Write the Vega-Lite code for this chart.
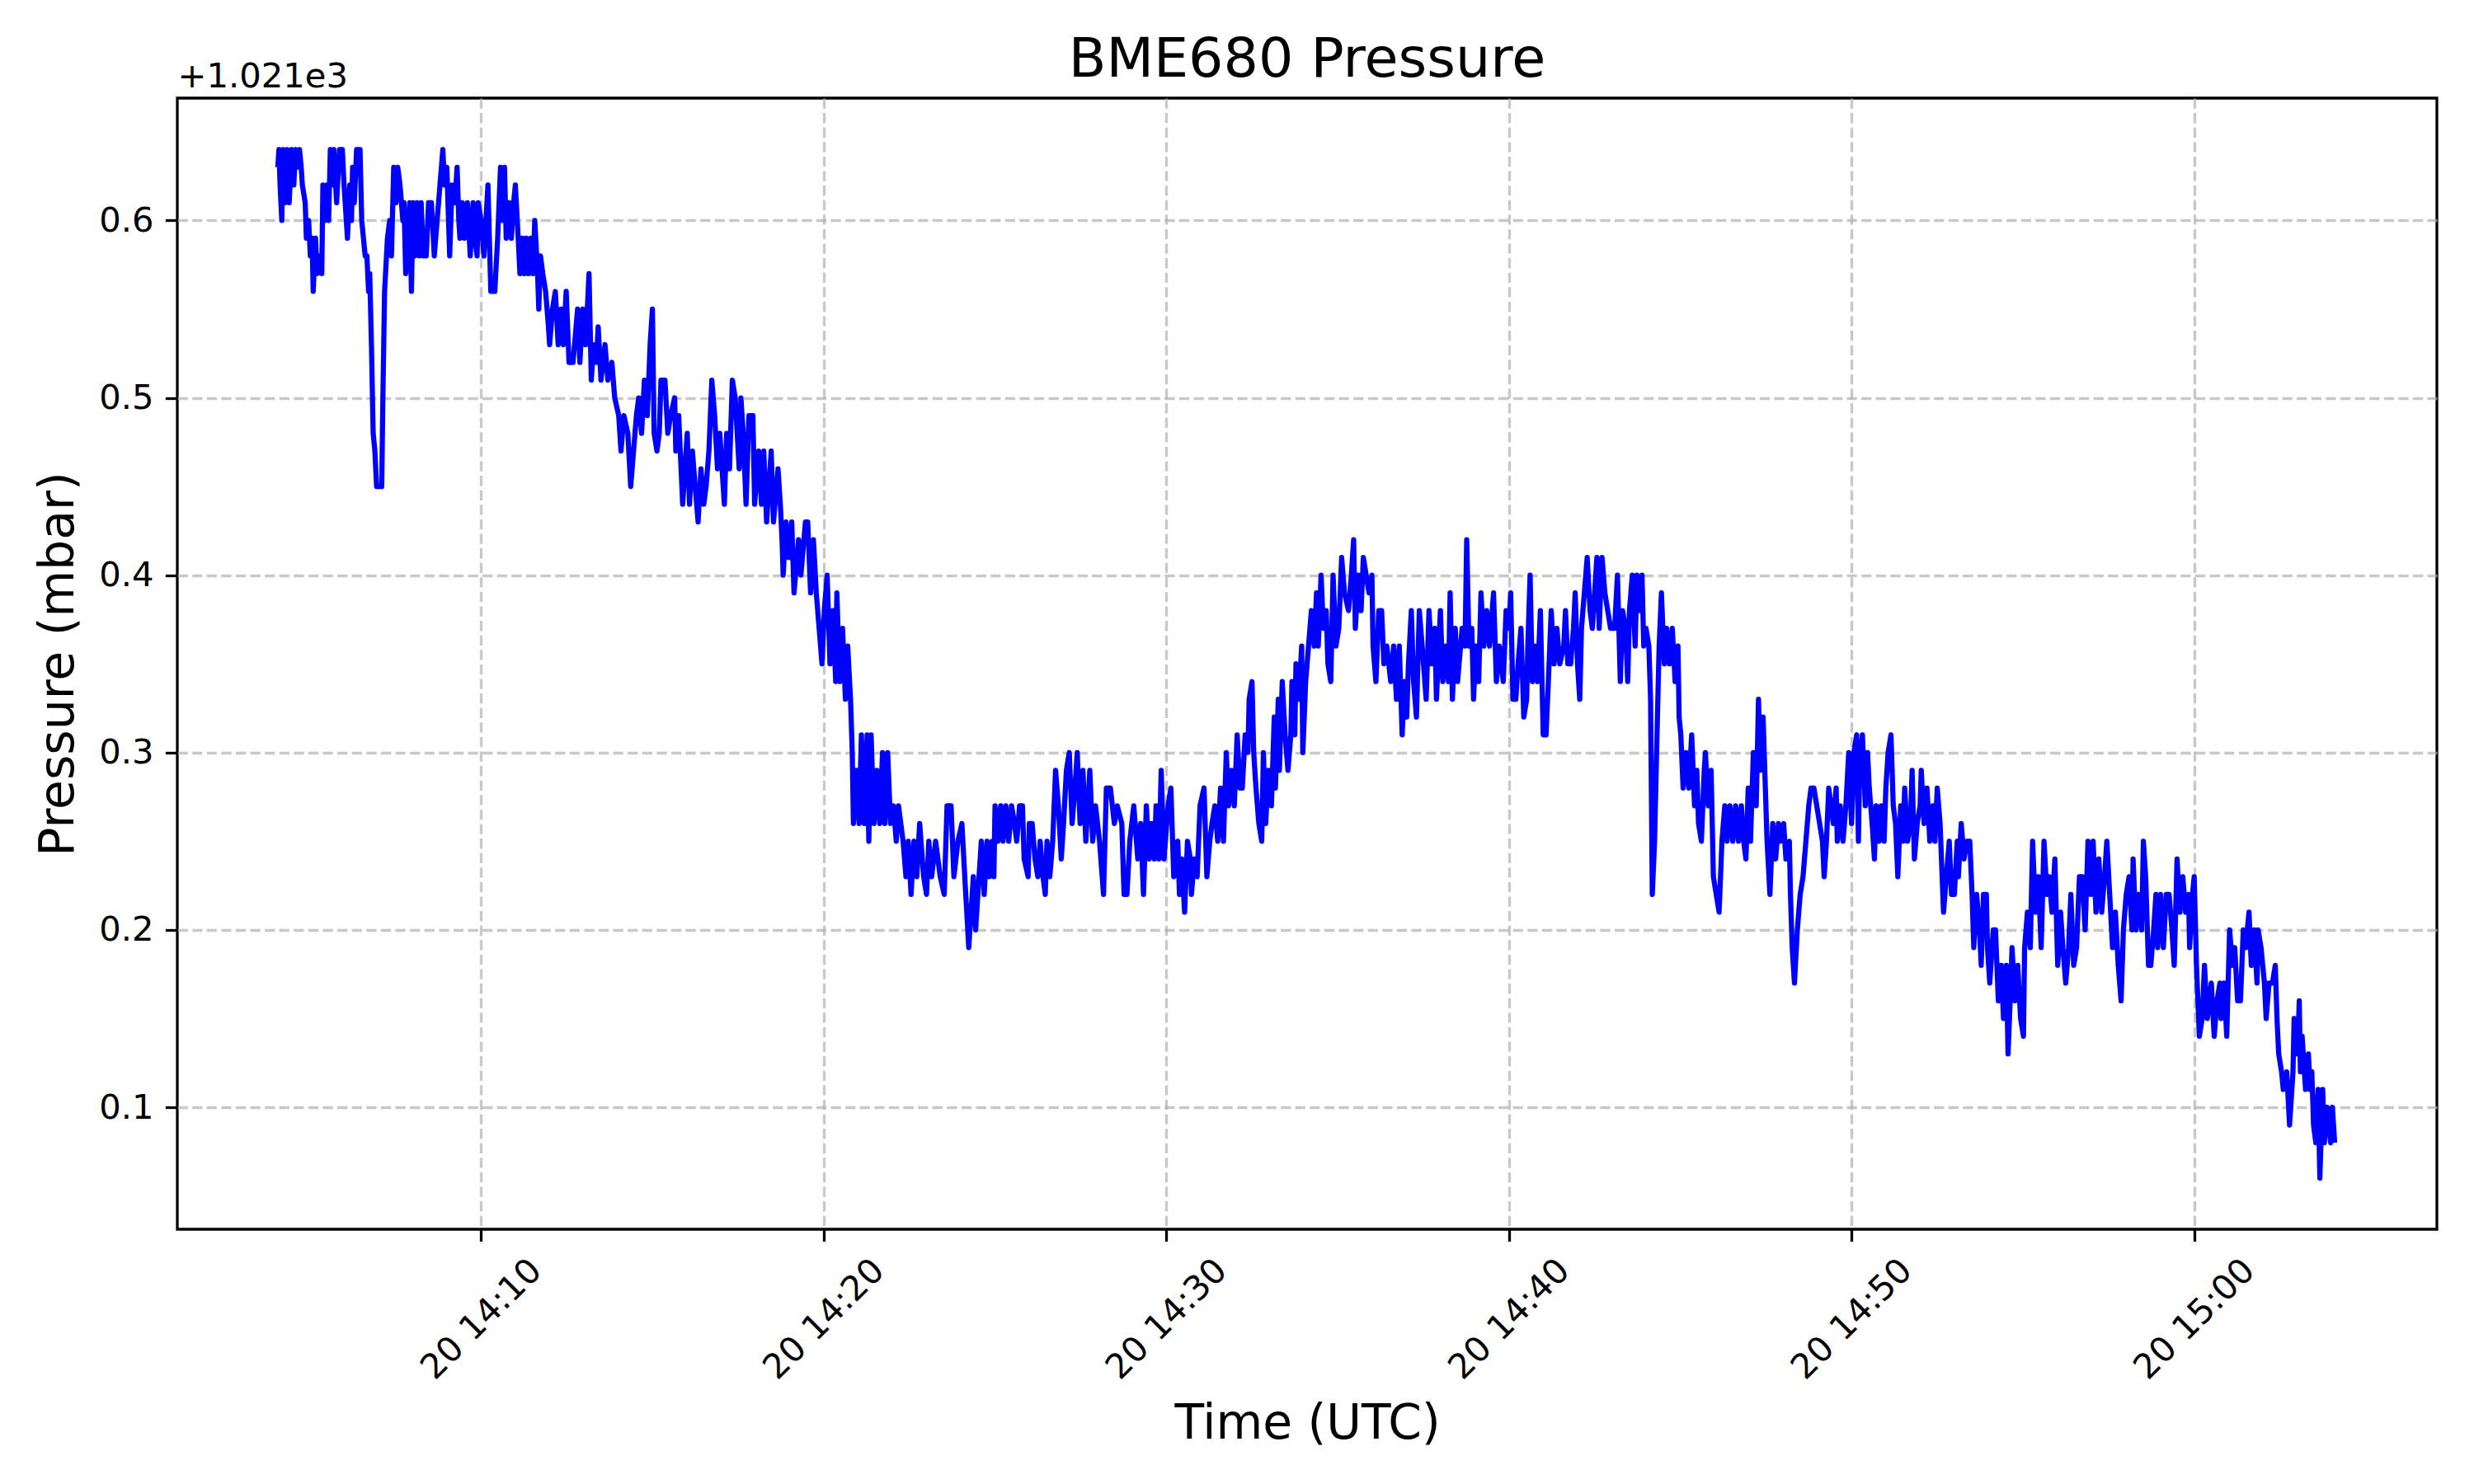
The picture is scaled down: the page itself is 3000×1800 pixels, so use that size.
{
  "$schema": "https://vega.github.io/schema/vega-lite/v6.json",
  "autosize": {"type": "none"},
  "width": 2740,
  "height": 1372,
  "padding": {"left": 215, "top": 119, "right": 45, "bottom": 309},
  "background": "white",
  "title": {
    "text": "BME680 Pressure",
    "font": "DejaVu Sans",
    "fontSize": 66.7,
    "fontWeight": "normal",
    "color": "#000000",
    "anchor": "middle",
    "frame": "group",
    "baseline": "alphabetic",
    "offset": -88
  },
  "data": {
    "format": {"parse": {"t": "utc:'%d %H:%M:%S'"}},
    "values": [
      {"t":"20 14:04:04","p":1021.63},{"t":"20 14:04:06","p":1021.64},{"t":"20 14:04:08","p":1021.62},{"t":"20 14:04:11","p":1021.60},
      {"t":"20 14:04:13","p":1021.64},{"t":"20 14:04:17","p":1021.61},{"t":"20 14:04:20","p":1021.64},{"t":"20 14:04:24","p":1021.61},
      {"t":"20 14:04:28","p":1021.64},{"t":"20 14:04:32","p":1021.62},{"t":"20 14:04:35","p":1021.64},{"t":"20 14:04:38","p":1021.63},
      {"t":"20 14:04:42","p":1021.64},{"t":"20 14:04:45","p":1021.63},{"t":"20 14:04:47","p":1021.62},{"t":"20 14:04:52","p":1021.61},
      {"t":"20 14:04:54","p":1021.59},{"t":"20 14:04:58","p":1021.60},{"t":"20 14:05:01","p":1021.58},{"t":"20 14:05:04","p":1021.59},
      {"t":"20 14:05:06","p":1021.56},{"t":"20 14:05:10","p":1021.59},{"t":"20 14:05:13","p":1021.57},{"t":"20 14:05:17","p":1021.58},
      {"t":"20 14:05:21","p":1021.57},{"t":"20 14:05:23","p":1021.62},{"t":"20 14:05:26","p":1021.60},{"t":"20 14:05:30","p":1021.62},
      {"t":"20 14:05:33","p":1021.60},{"t":"20 14:05:36","p":1021.64},{"t":"20 14:05:40","p":1021.62},{"t":"20 14:05:42","p":1021.64},
      {"t":"20 14:05:47","p":1021.61},{"t":"20 14:05:52","p":1021.64},{"t":"20 14:05:57","p":1021.64},{"t":"20 14:06:00","p":1021.62},
      {"t":"20 14:06:04","p":1021.60},{"t":"20 14:06:06","p":1021.59},{"t":"20 14:06:10","p":1021.62},{"t":"20 14:06:13","p":1021.60},
      {"t":"20 14:06:15","p":1021.63},{"t":"20 14:06:18","p":1021.61},{"t":"20 14:06:22","p":1021.64},{"t":"20 14:06:28","p":1021.64},
      {"t":"20 14:06:31","p":1021.60},{"t":"20 14:06:34","p":1021.59},{"t":"20 14:06:37","p":1021.58},{"t":"20 14:06:40","p":1021.58},
      {"t":"20 14:06:43","p":1021.56},{"t":"20 14:06:45","p":1021.57},{"t":"20 14:06:48","p":1021.53},{"t":"20 14:06:51","p":1021.48},
      {"t":"20 14:06:54","p":1021.47},{"t":"20 14:06:57","p":1021.45},{"t":"20 14:07:06","p":1021.45},{"t":"20 14:07:08","p":1021.50},
      {"t":"20 14:07:11","p":1021.56},{"t":"20 14:07:16","p":1021.59},{"t":"20 14:07:20","p":1021.60},{"t":"20 14:07:23","p":1021.58},
      {"t":"20 14:07:27","p":1021.63},{"t":"20 14:07:31","p":1021.61},{"t":"20 14:07:34","p":1021.63},{"t":"20 14:07:38","p":1021.62},
      {"t":"20 14:07:43","p":1021.60},{"t":"20 14:07:45","p":1021.61},{"t":"20 14:07:48","p":1021.57},{"t":"20 14:07:51","p":1021.59},
      {"t":"20 14:07:55","p":1021.61},{"t":"20 14:07:58","p":1021.56},{"t":"20 14:08:01","p":1021.61},{"t":"20 14:08:04","p":1021.58},
      {"t":"20 14:08:08","p":1021.61},{"t":"20 14:08:12","p":1021.58},{"t":"20 14:08:15","p":1021.61},{"t":"20 14:08:19","p":1021.58},
      {"t":"20 14:08:24","p":1021.58},{"t":"20 14:08:28","p":1021.61},{"t":"20 14:08:33","p":1021.61},{"t":"20 14:08:38","p":1021.58},
      {"t":"20 14:08:43","p":1021.60},{"t":"20 14:08:48","p":1021.62},{"t":"20 14:08:53","p":1021.64},{"t":"20 14:08:56","p":1021.62},
      {"t":"20 14:09:00","p":1021.63},{"t":"20 14:09:05","p":1021.58},{"t":"20 14:09:09","p":1021.62},{"t":"20 14:09:14","p":1021.61},
      {"t":"20 14:09:18","p":1021.63},{"t":"20 14:09:21","p":1021.60},{"t":"20 14:09:23","p":1021.59},{"t":"20 14:09:27","p":1021.61},
      {"t":"20 14:09:31","p":1021.59},{"t":"20 14:09:36","p":1021.61},{"t":"20 14:09:41","p":1021.58},{"t":"20 14:09:46","p":1021.61},
      {"t":"20 14:09:49","p":1021.59},{"t":"20 14:09:53","p":1021.58},{"t":"20 14:09:55","p":1021.61},{"t":"20 14:10:00","p":1021.60},
      {"t":"20 14:10:05","p":1021.58},{"t":"20 14:10:12","p":1021.62},{"t":"20 14:10:17","p":1021.56},{"t":"20 14:10:24","p":1021.56},
      {"t":"20 14:10:29","p":1021.59},{"t":"20 14:10:34","p":1021.63},{"t":"20 14:10:38","p":1021.60},{"t":"20 14:10:41","p":1021.63},
      {"t":"20 14:10:44","p":1021.59},{"t":"20 14:10:49","p":1021.61},{"t":"20 14:10:53","p":1021.59},{"t":"20 14:10:57","p":1021.61},
      {"t":"20 14:11:00","p":1021.62},{"t":"20 14:11:05","p":1021.59},{"t":"20 14:11:08","p":1021.57},{"t":"20 14:11:12","p":1021.59},
      {"t":"20 14:11:16","p":1021.57},{"t":"20 14:11:19","p":1021.59},{"t":"20 14:11:23","p":1021.57},{"t":"20 14:11:27","p":1021.59},
      {"t":"20 14:11:31","p":1021.57},{"t":"20 14:11:34","p":1021.60},{"t":"20 14:11:39","p":1021.57},{"t":"20 14:11:41","p":1021.55},
      {"t":"20 14:11:44","p":1021.58},{"t":"20 14:11:48","p":1021.57},{"t":"20 14:11:53","p":1021.56},{"t":"20 14:11:58","p":1021.54},
      {"t":"20 14:12:00","p":1021.53},{"t":"20 14:12:05","p":1021.55},{"t":"20 14:12:10","p":1021.56},{"t":"20 14:12:15","p":1021.53},
      {"t":"20 14:12:20","p":1021.55},{"t":"20 14:12:24","p":1021.53},{"t":"20 14:12:29","p":1021.56},{"t":"20 14:12:34","p":1021.52},
      {"t":"20 14:12:41","p":1021.52},{"t":"20 14:12:49","p":1021.55},{"t":"20 14:12:53","p":1021.52},{"t":"20 14:12:58","p":1021.55},
      {"t":"20 14:13:03","p":1021.53},{"t":"20 14:13:09","p":1021.57},{"t":"20 14:13:13","p":1021.51},{"t":"20 14:13:17","p":1021.53},
      {"t":"20 14:13:22","p":1021.52},{"t":"20 14:13:25","p":1021.54},{"t":"20 14:13:30","p":1021.51},{"t":"20 14:13:37","p":1021.53},
      {"t":"20 14:13:42","p":1021.51},{"t":"20 14:13:49","p":1021.52},{"t":"20 14:13:54","p":1021.50},{"t":"20 14:14:01","p":1021.49},
      {"t":"20 14:14:05","p":1021.47},{"t":"20 14:14:10","p":1021.49},{"t":"20 14:14:17","p":1021.48},{"t":"20 14:14:22","p":1021.45},
      {"t":"20 14:14:27","p":1021.47},{"t":"20 14:14:32","p":1021.49},{"t":"20 14:14:36","p":1021.50},{"t":"20 14:14:41","p":1021.48},
      {"t":"20 14:14:46","p":1021.51},{"t":"20 14:14:51","p":1021.49},{"t":"20 14:14:56","p":1021.53},{"t":"20 14:15:00","p":1021.55},
      {"t":"20 14:15:03","p":1021.48},{"t":"20 14:15:08","p":1021.47},{"t":"20 14:15:12","p":1021.48},{"t":"20 14:15:15","p":1021.51},
      {"t":"20 14:15:22","p":1021.51},{"t":"20 14:15:27","p":1021.48},{"t":"20 14:15:32","p":1021.49},{"t":"20 14:15:39","p":1021.50},
      {"t":"20 14:15:41","p":1021.47},{"t":"20 14:15:46","p":1021.49},{"t":"20 14:15:53","p":1021.44},{"t":"20 14:16:01","p":1021.48},
      {"t":"20 14:16:05","p":1021.44},{"t":"20 14:16:10","p":1021.47},{"t":"20 14:16:20","p":1021.43},{"t":"20 14:16:25","p":1021.46},
      {"t":"20 14:16:30","p":1021.44},{"t":"20 14:16:34","p":1021.45},{"t":"20 14:16:39","p":1021.47},{"t":"20 14:16:44","p":1021.51},
      {"t":"20 14:16:49","p":1021.49},{"t":"20 14:16:54","p":1021.46},{"t":"20 14:16:58","p":1021.48},{"t":"20 14:17:06","p":1021.44},
      {"t":"20 14:17:10","p":1021.48},{"t":"20 14:17:15","p":1021.46},{"t":"20 14:17:20","p":1021.51},{"t":"20 14:17:25","p":1021.50},
      {"t":"20 14:17:32","p":1021.46},{"t":"20 14:17:35","p":1021.50},{"t":"20 14:17:39","p":1021.48},{"t":"20 14:17:44","p":1021.44},
      {"t":"20 14:17:49","p":1021.49},{"t":"20 14:17:56","p":1021.49},{"t":"20 14:17:59","p":1021.44},{"t":"20 14:18:06","p":1021.47},
      {"t":"20 14:18:11","p":1021.44},{"t":"20 14:18:15","p":1021.47},{"t":"20 14:18:20","p":1021.43},{"t":"20 14:18:28","p":1021.47},
      {"t":"20 14:18:32","p":1021.43},{"t":"20 14:18:40","p":1021.46},{"t":"20 14:18:44","p":1021.44},{"t":"20 14:18:47","p":1021.42},
      {"t":"20 14:18:49","p":1021.40},{"t":"20 14:18:54","p":1021.43},{"t":"20 14:18:59","p":1021.41},{"t":"20 14:19:04","p":1021.43},
      {"t":"20 14:19:08","p":1021.39},{"t":"20 14:19:16","p":1021.42},{"t":"20 14:19:20","p":1021.40},{"t":"20 14:19:28","p":1021.43},
      {"t":"20 14:19:32","p":1021.43},{"t":"20 14:19:37","p":1021.39},{"t":"20 14:19:42","p":1021.42},{"t":"20 14:19:47","p":1021.39},
      {"t":"20 14:19:52","p":1021.37},{"t":"20 14:19:57","p":1021.35},{"t":"20 14:20:01","p":1021.38},{"t":"20 14:20:06","p":1021.40},
      {"t":"20 14:20:11","p":1021.35},{"t":"20 14:20:16","p":1021.38},{"t":"20 14:20:21","p":1021.34},{"t":"20 14:20:23","p":1021.39},
      {"t":"20 14:20:28","p":1021.34},{"t":"20 14:20:33","p":1021.37},{"t":"20 14:20:38","p":1021.33},{"t":"20 14:20:42","p":1021.36},
      {"t":"20 14:20:47","p":1021.33},{"t":"20 14:20:50","p":1021.30},{"t":"20 14:20:52","p":1021.26},{"t":"20 14:20:57","p":1021.29},
      {"t":"20 14:21:02","p":1021.26},{"t":"20 14:21:06","p":1021.31},{"t":"20 14:21:11","p":1021.26},{"t":"20 14:21:16","p":1021.31},
      {"t":"20 14:21:19","p":1021.25},{"t":"20 14:21:23","p":1021.31},{"t":"20 14:21:28","p":1021.26},{"t":"20 14:21:33","p":1021.29},
      {"t":"20 14:21:38","p":1021.26},{"t":"20 14:21:43","p":1021.30},{"t":"20 14:21:47","p":1021.26},{"t":"20 14:21:52","p":1021.30},
      {"t":"20 14:21:57","p":1021.26},{"t":"20 14:22:02","p":1021.27},{"t":"20 14:22:07","p":1021.25},{"t":"20 14:22:11","p":1021.27},
      {"t":"20 14:22:19","p":1021.25},{"t":"20 14:22:24","p":1021.23},{"t":"20 14:22:28","p":1021.25},{"t":"20 14:22:33","p":1021.22},
      {"t":"20 14:22:38","p":1021.25},{"t":"20 14:22:43","p":1021.23},{"t":"20 14:22:48","p":1021.26},{"t":"20 14:22:55","p":1021.23},
      {"t":"20 14:23:00","p":1021.22},{"t":"20 14:23:04","p":1021.25},{"t":"20 14:23:09","p":1021.23},{"t":"20 14:23:16","p":1021.25},
      {"t":"20 14:23:24","p":1021.23},{"t":"20 14:23:31","p":1021.22},{"t":"20 14:23:36","p":1021.27},{"t":"20 14:23:43","p":1021.27},
      {"t":"20 14:23:48","p":1021.23},{"t":"20 14:23:55","p":1021.25},{"t":"20 14:24:02","p":1021.26},{"t":"20 14:24:07","p":1021.23},
      {"t":"20 14:24:14","p":1021.19},{"t":"20 14:24:22","p":1021.23},{"t":"20 14:24:26","p":1021.20},{"t":"20 14:24:36","p":1021.25},
      {"t":"20 14:24:41","p":1021.22},{"t":"20 14:24:46","p":1021.25},{"t":"20 14:24:50","p":1021.23},{"t":"20 14:24:55","p":1021.25},
      {"t":"20 14:24:58","p":1021.23},{"t":"20 14:25:00","p":1021.27},{"t":"20 14:25:05","p":1021.25},{"t":"20 14:25:10","p":1021.27},
      {"t":"20 14:25:14","p":1021.25},{"t":"20 14:25:19","p":1021.27},{"t":"20 14:25:24","p":1021.25},{"t":"20 14:25:29","p":1021.27},
      {"t":"20 14:25:34","p":1021.26},{"t":"20 14:25:38","p":1021.25},{"t":"20 14:25:43","p":1021.27},{"t":"20 14:25:48","p":1021.27},
      {"t":"20 14:25:51","p":1021.24},{"t":"20 14:25:58","p":1021.23},{"t":"20 14:26:00","p":1021.26},{"t":"20 14:26:05","p":1021.26},
      {"t":"20 14:26:10","p":1021.24},{"t":"20 14:26:15","p":1021.23},{"t":"20 14:26:19","p":1021.25},{"t":"20 14:26:24","p":1021.23},
      {"t":"20 14:26:28","p":1021.22},{"t":"20 14:26:31","p":1021.25},{"t":"20 14:26:36","p":1021.23},{"t":"20 14:26:41","p":1021.25},
      {"t":"20 14:26:46","p":1021.29},{"t":"20 14:26:51","p":1021.27},{"t":"20 14:26:56","p":1021.24},{"t":"20 14:27:00","p":1021.26},
      {"t":"20 14:27:05","p":1021.29},{"t":"20 14:27:10","p":1021.30},{"t":"20 14:27:15","p":1021.26},{"t":"20 14:27:20","p":1021.28},
      {"t":"20 14:27:24","p":1021.30},{"t":"20 14:27:29","p":1021.26},{"t":"20 14:27:34","p":1021.29},{"t":"20 14:27:39","p":1021.25},
      {"t":"20 14:27:46","p":1021.29},{"t":"20 14:27:51","p":1021.25},{"t":"20 14:27:56","p":1021.27},{"t":"20 14:28:03","p":1021.25},
      {"t":"20 14:28:10","p":1021.22},{"t":"20 14:28:15","p":1021.28},{"t":"20 14:28:22","p":1021.28},{"t":"20 14:28:29","p":1021.26},
      {"t":"20 14:28:34","p":1021.27},{"t":"20 14:28:42","p":1021.26},{"t":"20 14:28:46","p":1021.22},{"t":"20 14:28:51","p":1021.22},
      {"t":"20 14:28:56","p":1021.25},{"t":"20 14:29:03","p":1021.27},{"t":"20 14:29:10","p":1021.24},{"t":"20 14:29:15","p":1021.26},
      {"t":"20 14:29:20","p":1021.22},{"t":"20 14:29:25","p":1021.27},{"t":"20 14:29:30","p":1021.24},{"t":"20 14:29:34","p":1021.26},
      {"t":"20 14:29:39","p":1021.24},{"t":"20 14:29:42","p":1021.27},{"t":"20 14:29:47","p":1021.24},{"t":"20 14:29:51","p":1021.29},
      {"t":"20 14:29:56","p":1021.24},{"t":"20 14:30:03","p":1021.27},{"t":"20 14:30:08","p":1021.28},{"t":"20 14:30:13","p":1021.23},
      {"t":"20 14:30:20","p":1021.25},{"t":"20 14:30:23","p":1021.22},{"t":"20 14:30:27","p":1021.24},{"t":"20 14:30:32","p":1021.21},
      {"t":"20 14:30:37","p":1021.25},{"t":"20 14:30:42","p":1021.24},{"t":"20 14:30:44","p":1021.22},{"t":"20 14:30:49","p":1021.24},
      {"t":"20 14:30:54","p":1021.23},{"t":"20 14:30:59","p":1021.27},{"t":"20 14:31:06","p":1021.28},{"t":"20 14:31:11","p":1021.23},
      {"t":"20 14:31:16","p":1021.25},{"t":"20 14:31:20","p":1021.26},{"t":"20 14:31:25","p":1021.27},{"t":"20 14:31:30","p":1021.25},
      {"t":"20 14:31:35","p":1021.28},{"t":"20 14:31:40","p":1021.25},{"t":"20 14:31:45","p":1021.30},{"t":"20 14:31:49","p":1021.27},
      {"t":"20 14:31:54","p":1021.29},{"t":"20 14:31:59","p":1021.27},{"t":"20 14:32:04","p":1021.31},{"t":"20 14:32:09","p":1021.28},
      {"t":"20 14:32:13","p":1021.28},{"t":"20 14:32:18","p":1021.31},{"t":"20 14:32:23","p":1021.30},{"t":"20 14:32:25","p":1021.33},
      {"t":"20 14:32:30","p":1021.34},{"t":"20 14:32:33","p":1021.30},{"t":"20 14:32:37","p":1021.28},{"t":"20 14:32:42","p":1021.26},
      {"t":"20 14:32:47","p":1021.25},{"t":"20 14:32:50","p":1021.30},{"t":"20 14:32:54","p":1021.26},{"t":"20 14:32:59","p":1021.29},
      {"t":"20 14:33:04","p":1021.27},{"t":"20 14:33:09","p":1021.32},{"t":"20 14:33:11","p":1021.28},{"t":"20 14:33:16","p":1021.33},
      {"t":"20 14:33:18","p":1021.29},{"t":"20 14:33:23","p":1021.34},{"t":"20 14:33:28","p":1021.31},{"t":"20 14:33:33","p":1021.29},
      {"t":"20 14:33:38","p":1021.31},{"t":"20 14:33:40","p":1021.34},{"t":"20 14:33:45","p":1021.31},{"t":"20 14:33:47","p":1021.35},
      {"t":"20 14:33:52","p":1021.33},{"t":"20 14:33:57","p":1021.36},{"t":"20 14:33:59","p":1021.30},{"t":"20 14:34:04","p":1021.34},
      {"t":"20 14:34:09","p":1021.36},{"t":"20 14:34:14","p":1021.38},{"t":"20 14:34:19","p":1021.36},{"t":"20 14:34:23","p":1021.39},
      {"t":"20 14:34:26","p":1021.36},{"t":"20 14:34:31","p":1021.40},{"t":"20 14:34:35","p":1021.37},{"t":"20 14:34:40","p":1021.38},
      {"t":"20 14:34:43","p":1021.35},{"t":"20 14:34:48","p":1021.34},{"t":"20 14:34:52","p":1021.40},{"t":"20 14:34:57","p":1021.36},
      {"t":"20 14:35:02","p":1021.37},{"t":"20 14:35:07","p":1021.41},{"t":"20 14:35:12","p":1021.39},{"t":"20 14:35:19","p":1021.38},
      {"t":"20 14:35:24","p":1021.40},{"t":"20 14:35:28","p":1021.42},{"t":"20 14:35:31","p":1021.37},{"t":"20 14:35:36","p":1021.40},
      {"t":"20 14:35:41","p":1021.38},{"t":"20 14:35:45","p":1021.41},{"t":"20 14:35:50","p":1021.40},{"t":"20 14:35:55","p":1021.39},
      {"t":"20 14:36:00","p":1021.40},{"t":"20 14:36:02","p":1021.36},{"t":"20 14:36:07","p":1021.34},{"t":"20 14:36:12","p":1021.38},
      {"t":"20 14:36:17","p":1021.38},{"t":"20 14:36:21","p":1021.35},{"t":"20 14:36:26","p":1021.36},{"t":"20 14:36:33","p":1021.34},
      {"t":"20 14:36:38","p":1021.36},{"t":"20 14:36:43","p":1021.33},{"t":"20 14:36:48","p":1021.36},{"t":"20 14:36:53","p":1021.31},
      {"t":"20 14:36:57","p":1021.34},{"t":"20 14:37:01","p":1021.32},{"t":"20 14:37:04","p":1021.35},{"t":"20 14:37:09","p":1021.38},
      {"t":"20 14:37:13","p":1021.34},{"t":"20 14:37:18","p":1021.32},{"t":"20 14:37:23","p":1021.38},{"t":"20 14:37:28","p":1021.36},
      {"t":"20 14:37:35","p":1021.33},{"t":"20 14:37:40","p":1021.38},{"t":"20 14:37:45","p":1021.35},{"t":"20 14:37:50","p":1021.37},
      {"t":"20 14:37:53","p":1021.33},{"t":"20 14:37:57","p":1021.36},{"t":"20 14:38:00","p":1021.38},{"t":"20 14:38:04","p":1021.34},
      {"t":"20 14:38:09","p":1021.36},{"t":"20 14:38:14","p":1021.34},{"t":"20 14:38:17","p":1021.39},{"t":"20 14:38:21","p":1021.33},
      {"t":"20 14:38:26","p":1021.37},{"t":"20 14:38:30","p":1021.34},{"t":"20 14:38:38","p":1021.37},{"t":"20 14:38:43","p":1021.36},
      {"t":"20 14:38:46","p":1021.42},{"t":"20 14:38:50","p":1021.36},{"t":"20 14:38:55","p":1021.37},{"t":"20 14:38:58","p":1021.33},
      {"t":"20 14:39:02","p":1021.36},{"t":"20 14:39:07","p":1021.34},{"t":"20 14:39:11","p":1021.39},{"t":"20 14:39:16","p":1021.36},
      {"t":"20 14:39:21","p":1021.38},{"t":"20 14:39:26","p":1021.36},{"t":"20 14:39:33","p":1021.39},{"t":"20 14:39:38","p":1021.34},
      {"t":"20 14:39:43","p":1021.36},{"t":"20 14:39:50","p":1021.34},{"t":"20 14:39:55","p":1021.38},{"t":"20 14:40:00","p":1021.37},
      {"t":"20 14:40:03","p":1021.39},{"t":"20 14:40:07","p":1021.33},{"t":"20 14:40:12","p":1021.33},{"t":"20 14:40:16","p":1021.35},
      {"t":"20 14:40:21","p":1021.37},{"t":"20 14:40:26","p":1021.32},{"t":"20 14:40:31","p":1021.33},{"t":"20 14:40:33","p":1021.36},
      {"t":"20 14:40:37","p":1021.40},{"t":"20 14:40:41","p":1021.34},{"t":"20 14:40:45","p":1021.36},{"t":"20 14:40:50","p":1021.34},
      {"t":"20 14:40:55","p":1021.38},{"t":"20 14:41:00","p":1021.31},{"t":"20 14:41:05","p":1021.31},{"t":"20 14:41:09","p":1021.34},
      {"t":"20 14:41:14","p":1021.38},{"t":"20 14:41:19","p":1021.35},{"t":"20 14:41:24","p":1021.37},{"t":"20 14:41:29","p":1021.35},
      {"t":"20 14:41:36","p":1021.36},{"t":"20 14:41:39","p":1021.38},{"t":"20 14:41:43","p":1021.35},{"t":"20 14:41:48","p":1021.35},
      {"t":"20 14:41:53","p":1021.37},{"t":"20 14:41:56","p":1021.39},{"t":"20 14:42:00","p":1021.35},{"t":"20 14:42:04","p":1021.33},
      {"t":"20 14:42:07","p":1021.37},{"t":"20 14:42:12","p":1021.39},{"t":"20 14:42:17","p":1021.41},{"t":"20 14:42:22","p":1021.38},
      {"t":"20 14:42:26","p":1021.37},{"t":"20 14:42:34","p":1021.41},{"t":"20 14:42:38","p":1021.37},{"t":"20 14:42:43","p":1021.41},
      {"t":"20 14:42:48","p":1021.39},{"t":"20 14:42:53","p":1021.38},{"t":"20 14:42:58","p":1021.37},{"t":"20 14:43:05","p":1021.37},
      {"t":"20 14:43:10","p":1021.40},{"t":"20 14:43:15","p":1021.34},{"t":"20 14:43:19","p":1021.38},{"t":"20 14:43:24","p":1021.37},
      {"t":"20 14:43:28","p":1021.34},{"t":"20 14:43:31","p":1021.38},{"t":"20 14:43:36","p":1021.40},{"t":"20 14:43:41","p":1021.36},
      {"t":"20 14:43:44","p":1021.40},{"t":"20 14:43:48","p":1021.38},{"t":"20 14:43:53","p":1021.40},{"t":"20 14:43:56","p":1021.36},
      {"t":"20 14:44:00","p":1021.37},{"t":"20 14:44:05","p":1021.36},{"t":"20 14:44:08","p":1021.33},{"t":"20 14:44:11","p":1021.22},
      {"t":"20 14:44:15","p":1021.25},{"t":"20 14:44:20","p":1021.32},{"t":"20 14:44:23","p":1021.36},{"t":"20 14:44:27","p":1021.39},
      {"t":"20 14:44:32","p":1021.35},{"t":"20 14:44:36","p":1021.37},{"t":"20 14:44:41","p":1021.35},{"t":"20 14:44:46","p":1021.37},
      {"t":"20 14:44:51","p":1021.34},{"t":"20 14:44:56","p":1021.36},{"t":"20 14:44:58","p":1021.32},{"t":"20 14:45:01","p":1021.31},
      {"t":"20 14:45:05","p":1021.28},{"t":"20 14:45:10","p":1021.30},{"t":"20 14:45:15","p":1021.28},{"t":"20 14:45:20","p":1021.31},
      {"t":"20 14:45:25","p":1021.27},{"t":"20 14:45:29","p":1021.29},{"t":"20 14:45:32","p":1021.26},{"t":"20 14:45:37","p":1021.25},
      {"t":"20 14:45:42","p":1021.29},{"t":"20 14:45:44","p":1021.30},{"t":"20 14:45:49","p":1021.27},{"t":"20 14:45:54","p":1021.29},
      {"t":"20 14:45:58","p":1021.23},{"t":"20 14:46:03","p":1021.22},{"t":"20 14:46:08","p":1021.21},{"t":"20 14:46:13","p":1021.25},
      {"t":"20 14:46:18","p":1021.27},{"t":"20 14:46:22","p":1021.25},{"t":"20 14:46:27","p":1021.27},{"t":"20 14:46:32","p":1021.25},
      {"t":"20 14:46:37","p":1021.27},{"t":"20 14:46:42","p":1021.25},{"t":"20 14:46:47","p":1021.27},{"t":"20 14:46:51","p":1021.25},
      {"t":"20 14:46:55","p":1021.24},{"t":"20 14:46:59","p":1021.28},{"t":"20 14:47:03","p":1021.25},{"t":"20 14:47:08","p":1021.30},
      {"t":"20 14:47:13","p":1021.27},{"t":"20 14:47:17","p":1021.33},{"t":"20 14:47:20","p":1021.29},{"t":"20 14:47:25","p":1021.32},
      {"t":"20 14:47:30","p":1021.27},{"t":"20 14:47:32","p":1021.25},{"t":"20 14:47:37","p":1021.22},{"t":"20 14:47:42","p":1021.26},
      {"t":"20 14:47:47","p":1021.24},{"t":"20 14:47:52","p":1021.26},{"t":"20 14:47:56","p":1021.25},{"t":"20 14:48:01","p":1021.26},
      {"t":"20 14:48:05","p":1021.24},{"t":"20 14:48:11","p":1021.25},{"t":"20 14:48:13","p":1021.22},{"t":"20 14:48:16","p":1021.19},
      {"t":"20 14:48:20","p":1021.17},{"t":"20 14:48:25","p":1021.20},{"t":"20 14:48:30","p":1021.22},{"t":"20 14:48:35","p":1021.23},
      {"t":"20 14:48:40","p":1021.25},{"t":"20 14:48:45","p":1021.27},{"t":"20 14:48:49","p":1021.28},{"t":"20 14:48:54","p":1021.28},
      {"t":"20 14:48:59","p":1021.27},{"t":"20 14:49:04","p":1021.26},{"t":"20 14:49:09","p":1021.25},{"t":"20 14:49:12","p":1021.23},
      {"t":"20 14:49:16","p":1021.25},{"t":"20 14:49:20","p":1021.28},{"t":"20 14:49:28","p":1021.26},{"t":"20 14:49:33","p":1021.28},
      {"t":"20 14:49:35","p":1021.25},{"t":"20 14:49:40","p":1021.27},{"t":"20 14:49:45","p":1021.25},{"t":"20 14:49:50","p":1021.27},
      {"t":"20 14:49:55","p":1021.30},{"t":"20 14:50:00","p":1021.26},{"t":"20 14:50:04","p":1021.30},{"t":"20 14:50:09","p":1021.31},
      {"t":"20 14:50:12","p":1021.25},{"t":"20 14:50:14","p":1021.29},{"t":"20 14:50:19","p":1021.31},{"t":"20 14:50:24","p":1021.27},
      {"t":"20 14:50:28","p":1021.30},{"t":"20 14:50:31","p":1021.28},{"t":"20 14:50:36","p":1021.26},{"t":"20 14:50:40","p":1021.24},
      {"t":"20 14:50:43","p":1021.27},{"t":"20 14:50:48","p":1021.25},{"t":"20 14:50:52","p":1021.27},{"t":"20 14:50:57","p":1021.25},
      {"t":"20 14:51:00","p":1021.28},{"t":"20 14:51:04","p":1021.30},{"t":"20 14:51:09","p":1021.31},{"t":"20 14:51:13","p":1021.27},
      {"t":"20 14:51:17","p":1021.26},{"t":"20 14:51:21","p":1021.23},{"t":"20 14:51:26","p":1021.27},{"t":"20 14:51:30","p":1021.25},
      {"t":"20 14:51:33","p":1021.28},{"t":"20 14:51:38","p":1021.25},{"t":"20 14:51:43","p":1021.26},{"t":"20 14:51:46","p":1021.29},
      {"t":"20 14:51:50","p":1021.24},{"t":"20 14:51:55","p":1021.26},{"t":"20 14:52:00","p":1021.27},{"t":"20 14:52:02","p":1021.29},
      {"t":"20 14:52:07","p":1021.26},{"t":"20 14:52:12","p":1021.28},{"t":"20 14:52:17","p":1021.25},{"t":"20 14:52:22","p":1021.27},
      {"t":"20 14:52:26","p":1021.25},{"t":"20 14:52:30","p":1021.28},{"t":"20 14:52:35","p":1021.26},{"t":"20 14:52:41","p":1021.21},
      {"t":"20 14:52:46","p":1021.23},{"t":"20 14:52:51","p":1021.25},{"t":"20 14:52:55","p":1021.22},{"t":"20 14:53:00","p":1021.22},
      {"t":"20 14:53:05","p":1021.25},{"t":"20 14:53:07","p":1021.23},{"t":"20 14:53:12","p":1021.26},{"t":"20 14:53:17","p":1021.24},
      {"t":"20 14:53:22","p":1021.25},{"t":"20 14:53:27","p":1021.25},{"t":"20 14:53:31","p":1021.22},{"t":"20 14:53:34","p":1021.19},
      {"t":"20 14:53:39","p":1021.22},{"t":"20 14:53:44","p":1021.20},{"t":"20 14:53:47","p":1021.18},{"t":"20 14:53:51","p":1021.22},
      {"t":"20 14:53:56","p":1021.22},{"t":"20 14:53:58","p":1021.19},{"t":"20 14:54:02","p":1021.17},{"t":"20 14:54:08","p":1021.20},
      {"t":"20 14:54:12","p":1021.20},{"t":"20 14:54:17","p":1021.16},{"t":"20 14:54:22","p":1021.18},{"t":"20 14:54:26","p":1021.15},
      {"t":"20 14:54:31","p":1021.18},{"t":"20 14:54:34","p":1021.13},{"t":"20 14:54:39","p":1021.17},{"t":"20 14:54:41","p":1021.19},
      {"t":"20 14:54:46","p":1021.16},{"t":"20 14:54:51","p":1021.18},{"t":"20 14:54:56","p":1021.15},{"t":"20 14:55:01","p":1021.14},
      {"t":"20 14:55:03","p":1021.19},{"t":"20 14:55:08","p":1021.21},{"t":"20 14:55:13","p":1021.19},{"t":"20 14:55:17","p":1021.25},
      {"t":"20 14:55:22","p":1021.21},{"t":"20 14:55:27","p":1021.23},{"t":"20 14:55:32","p":1021.19},{"t":"20 14:55:37","p":1021.25},
      {"t":"20 14:55:42","p":1021.22},{"t":"20 14:55:46","p":1021.23},{"t":"20 14:55:51","p":1021.21},{"t":"20 14:55:56","p":1021.24},
      {"t":"20 14:56:01","p":1021.18},{"t":"20 14:56:06","p":1021.21},{"t":"20 14:56:10","p":1021.19},{"t":"20 14:56:15","p":1021.17},
      {"t":"20 14:56:20","p":1021.19},{"t":"20 14:56:24","p":1021.22},{"t":"20 14:56:29","p":1021.18},{"t":"20 14:56:34","p":1021.19},
      {"t":"20 14:56:39","p":1021.23},{"t":"20 14:56:44","p":1021.23},{"t":"20 14:56:49","p":1021.20},{"t":"20 14:56:54","p":1021.25},
      {"t":"20 14:56:59","p":1021.22},{"t":"20 14:57:03","p":1021.25},{"t":"20 14:57:08","p":1021.21},{"t":"20 14:57:13","p":1021.24},
      {"t":"20 14:57:18","p":1021.21},{"t":"20 14:57:23","p":1021.23},{"t":"20 14:57:27","p":1021.25},{"t":"20 14:57:32","p":1021.22},
      {"t":"20 14:57:37","p":1021.19},{"t":"20 14:57:42","p":1021.21},{"t":"20 14:57:47","p":1021.18},{"t":"20 14:57:52","p":1021.16},
      {"t":"20 14:57:56","p":1021.20},{"t":"20 14:58:01","p":1021.22},{"t":"20 14:58:06","p":1021.23},{"t":"20 14:58:11","p":1021.20},
      {"t":"20 14:58:13","p":1021.24},{"t":"20 14:58:18","p":1021.20},{"t":"20 14:58:23","p":1021.22},{"t":"20 14:58:28","p":1021.20},
      {"t":"20 14:58:31","p":1021.25},{"t":"20 14:58:35","p":1021.23},{"t":"20 14:58:40","p":1021.18},{"t":"20 14:58:44","p":1021.18},
      {"t":"20 14:58:49","p":1021.20},{"t":"20 14:58:53","p":1021.22},{"t":"20 14:58:56","p":1021.19},{"t":"20 14:59:01","p":1021.22},
      {"t":"20 14:59:06","p":1021.19},{"t":"20 14:59:11","p":1021.22},{"t":"20 14:59:16","p":1021.22},{"t":"20 14:59:21","p":1021.20},
      {"t":"20 14:59:25","p":1021.18},{"t":"20 14:59:30","p":1021.24},{"t":"20 14:59:35","p":1021.21},{"t":"20 14:59:40","p":1021.23},
      {"t":"20 14:59:45","p":1021.21},{"t":"20 14:59:50","p":1021.22},{"t":"20 14:59:52","p":1021.19},{"t":"20 14:59:57","p":1021.22},
      {"t":"20 15:00:00","p":1021.23},{"t":"20 15:00:04","p":1021.18},{"t":"20 15:00:09","p":1021.14},{"t":"20 15:00:14","p":1021.15},
      {"t":"20 15:00:18","p":1021.18},{"t":"20 15:00:23","p":1021.15},{"t":"20 15:00:30","p":1021.17},{"t":"20 15:00:35","p":1021.14},
      {"t":"20 15:00:40","p":1021.16},{"t":"20 15:00:45","p":1021.17},{"t":"20 15:00:47","p":1021.15},{"t":"20 15:00:52","p":1021.17},
      {"t":"20 15:00:57","p":1021.14},{"t":"20 15:01:02","p":1021.20},{"t":"20 15:01:07","p":1021.18},{"t":"20 15:01:11","p":1021.19},
      {"t":"20 15:01:16","p":1021.16},{"t":"20 15:01:21","p":1021.16},{"t":"20 15:01:26","p":1021.20},{"t":"20 15:01:31","p":1021.19},
      {"t":"20 15:01:33","p":1021.20},{"t":"20 15:01:36","p":1021.21},{"t":"20 15:01:40","p":1021.18},{"t":"20 15:01:45","p":1021.20},
      {"t":"20 15:01:50","p":1021.17},{"t":"20 15:01:52","p":1021.20},{"t":"20 15:01:57","p":1021.19},{"t":"20 15:02:03","p":1021.17},
      {"t":"20 15:02:06","p":1021.15},{"t":"20 15:02:11","p":1021.17},{"t":"20 15:02:17","p":1021.17},{"t":"20 15:02:22","p":1021.18},
      {"t":"20 15:02:25","p":1021.15},{"t":"20 15:02:28","p":1021.13},{"t":"20 15:02:33","p":1021.12},{"t":"20 15:02:36","p":1021.11},
      {"t":"20 15:02:42","p":1021.12},{"t":"20 15:02:47","p":1021.09},{"t":"20 15:02:53","p":1021.12},{"t":"20 15:02:55","p":1021.15},
      {"t":"20 15:03:01","p":1021.13},{"t":"20 15:03:04","p":1021.16},{"t":"20 15:03:06","p":1021.12},{"t":"20 15:03:09","p":1021.14},
      {"t":"20 15:03:15","p":1021.11},{"t":"20 15:03:20","p":1021.13},{"t":"20 15:03:23","p":1021.11},{"t":"20 15:03:26","p":1021.12},
      {"t":"20 15:03:29","p":1021.09},{"t":"20 15:03:33","p":1021.08},{"t":"20 15:03:37","p":1021.11},{"t":"20 15:03:40","p":1021.06},
      {"t":"20 15:03:45","p":1021.11},{"t":"20 15:03:48","p":1021.08},{"t":"20 15:03:53","p":1021.10},{"t":"20 15:03:56","p":1021.09},
      {"t":"20 15:03:59","p":1021.08},{"t":"20 15:04:02","p":1021.10},{"t":"20 15:04:06","p":1021.08}
    ]
  },
  "layer": [
    {
      "mark": {"type": "line", "color": "#0000ff", "strokeWidth": 6.25, "strokeJoin": "round"},
      "encoding": {
        "x": {
          "field": "t",
          "type": "temporal",
          "scale": {
            "type": "utc",
            "domain": [
              {"year": 1900, "month": 1, "date": 20, "hours": 14, "minutes": 1, "seconds": 8, "utc": true},
              {"year": 1900, "month": 1, "date": 20, "hours": 15, "minutes": 7, "seconds": 5, "utc": true}
            ]
          },
          "axis": {
            "orient": "bottom",
            "title": "Time (UTC)",
            "labelExpr": "utcFormat(datum.value, '%d %H:%M')",
            "values": [
              {"year": 1900, "month": 1, "date": 20, "hours": 14, "minutes": 10, "utc": true},
              {"year": 1900, "month": 1, "date": 20, "hours": 14, "minutes": 20, "utc": true},
              {"year": 1900, "month": 1, "date": 20, "hours": 14, "minutes": 30, "utc": true},
              {"year": 1900, "month": 1, "date": 20, "hours": 14, "minutes": 40, "utc": true},
              {"year": 1900, "month": 1, "date": 20, "hours": 14, "minutes": 50, "utc": true},
              {"year": 1900, "month": 1, "date": 20, "hours": 15, "minutes": 0, "utc": true}
            ],
            "labelAngle": -45,
            "labelAlign": "center",
            "labelBaseline": "middle",
            "labelPadding": 94,
            "labelLimit": 0,
            "labelOverlap": false,
            "labelFlush": false,
            "titleX": 1370,
            "titleY": 253,
            "titleAlign": "center",
            "titleBaseline": "alphabetic"
          }
        },
        "y": {
          "field": "p",
          "type": "quantitative",
          "scale": {"domain": [1021.0312, 1021.669], "nice": false, "zero": false},
          "axis": {
            "title": "Pressure (mbar)",
            "values": [1021.1, 1021.2, 1021.3, 1021.4, 1021.5, 1021.6],
            "labelExpr": "format(datum.value - 1021, '.1f')",
            "labelAlign": "right",
            "labelBaseline": "middle",
            "labelPadding": 14.4,
            "titleAngle": 270,
            "titleX": -127,
            "titleY": 686,
            "titleAlign": "center",
            "titleBaseline": "alphabetic"
          }
        }
      }
    },
    {
      "mark": {"type": "point", "opacity": 0},
      "encoding": {
        "x": {
          "field": "t",
          "type": "temporal",
          "scale": {"type": "utc"},
          "axis": {
            "orient": "top",
            "title": "+1.021e3",
            "labels": false,
            "ticks": false,
            "domain": false,
            "grid": false,
            "titleAngle": 0,
            "titleX": 0,
            "titleY": -14,
            "titleAlign": "left",
            "titleAnchor": "start",
            "titleBaseline": "alphabetic",
            "titleFontSize": 41.7
          }
        }
      }
    }
  ],
  "resolve": {"axis": {"x": "independent"}},
  "config": {
    "font": "DejaVu Sans",
    "view": {"stroke": "#000000", "strokeWidth": 3.3},
    "axis": {
      "domain": false,
      "grid": true,
      "gridColor": "#b0b0b0",
      "gridOpacity": 0.7,
      "gridWidth": 3.3,
      "gridDash": [12.3, 5.3],
      "ticks": true,
      "tickColor": "#000000",
      "tickWidth": 3.3,
      "tickSize": 14.6,
      "labelFont": "DejaVu Sans",
      "labelFontSize": 41.7,
      "labelColor": "#000000",
      "titleFont": "DejaVu Sans",
      "titleFontSize": 58.3,
      "titleFontWeight": "normal",
      "titleColor": "#000000"
    }
  }
}
